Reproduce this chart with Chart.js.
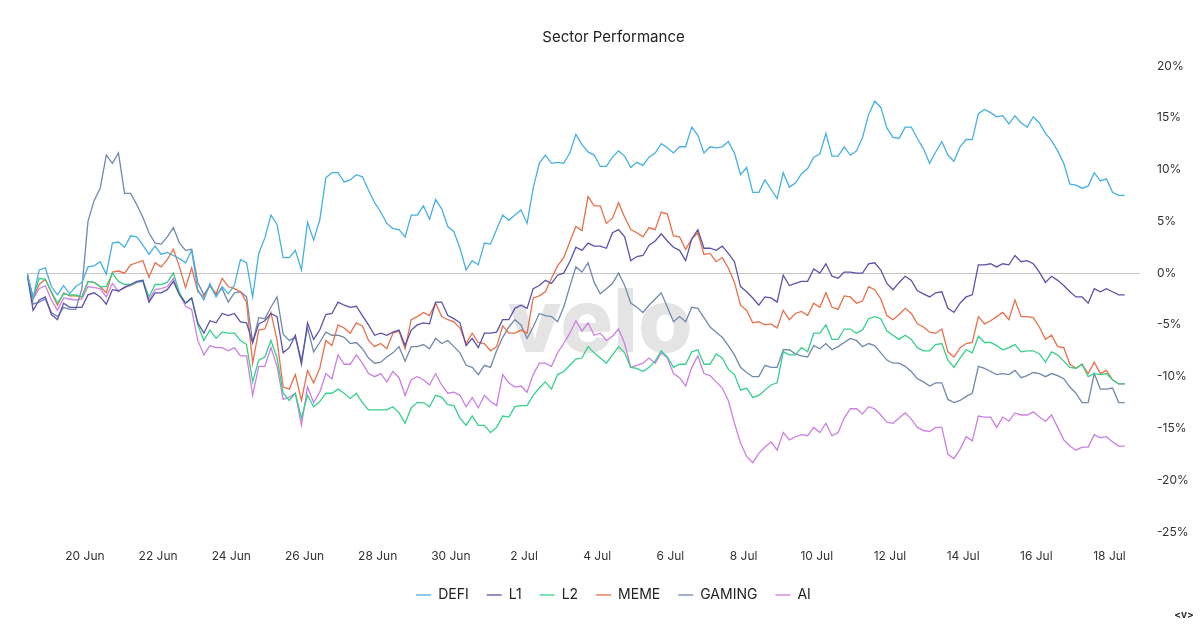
<!DOCTYPE html>
<html>
<head>
<meta charset="utf-8">
<script src="https://cdn.jsdelivr.net/npm/chart.js@4.4.1/dist/chart.umd.min.js"></script>
<style>
  html, body { margin: 0; padding: 0; background: #fff; }
  #wrap { width: 1200px; height: 628px; }
</style>
</head>
<body>
<div id="wrap"><canvas id="chart" width="1200" height="628"></canvas></div>
<script>
// 4-hourly sector returns (%), starting 18 Jun 10:00
const startTime = "2024-06-18T10:00:00Z";
const stepHours = 4;

const xTickDates = ["2024-06-20", "2024-06-22", "2024-06-24", "2024-06-26", "2024-06-28", "2024-06-30",
  "2024-07-02", "2024-07-04", "2024-07-06", "2024-07-08", "2024-07-10", "2024-07-12",
  "2024-07-14", "2024-07-16", "2024-07-18"];
const xTickLabels = ["20 Jun", "22 Jun", "24 Jun", "26 Jun", "28 Jun", "30 Jun",
  "2 Jul", "4 Jul", "6 Jul", "8 Jul", "10 Jul", "12 Jul",
  "14 Jul", "16 Jul", "18 Jul"];

const seriesNames = ["DEFI", "L1", "L2", "MEME", "GAMING", "AI"];
const seriesColors = ["#47b0e2", "#5a53a9", "#36cf8c", "#e8704a", "#7189ac", "#cc7fe4"];

const defi = [
  0, -2.4, 0.3, 0.5, -1.3, -2.1, -1.2, -2.0, -1.3, -0.9,
  0.6, 0.7, 1.1, -0.1, 2.9, 3.0, 2.5, 3.6, 3.5, 2.7,
  1.8, 2.6, 1.8, 2.0, 1.7, 1.4, 1.0, 2.2, -1.6, -2.6,
  -1.0, -2.3, -1.3, -2.0, -1.2, 1.3, 1.0, -2.3, 1.9, 3.4,
  5.6, 4.7, 1.5, 1.5, 2.2, 0.3, 4.9, 3.2, 5.1, 9.2,
  9.7, 9.7, 8.8, 9.0, 9.5, 9.3, 8.0, 6.8, 5.9, 4.8,
  4.3, 4.2, 3.5, 5.6, 5.6, 6.5, 5.2, 7.1, 6.2, 4.5,
  4.0, 2.4, 0.3, 1.2, 0.8, 2.9, 2.8, 4.2, 5.6, 5.1,
  5.6, 6.1, 4.8, 8.2, 10.6, 11.4, 10.6, 10.7, 10.6, 11.6,
  13.4, 12.4, 11.7, 11.4, 10.3, 10.3, 11.2, 11.8, 11.3, 10.2,
  10.7, 10.4, 11.2, 11.6, 12.5, 12.1, 11.6, 12.2, 12.2, 14.1,
  13.3, 11.6, 12.2, 12.1, 12.2, 12.7, 11.6, 9.5, 10.2, 7.8,
  7.8, 9.0, 8.1, 7.2, 9.7, 8.3, 8.7, 9.6, 10.1, 11.2,
  11.5, 13.5, 11.3, 11.3, 12.2, 11.4, 11.8, 13.1, 15.3, 16.6,
  16.0, 14.0, 13.1, 13.0, 14.1, 14.1, 13.0, 12.0, 10.6, 11.7,
  12.7, 11.4, 10.8, 12.2, 12.9, 12.9, 15.4, 15.8, 15.5, 15.1,
  15.2, 14.4, 15.2, 14.5, 14.1, 15.1, 14.5, 13.5, 12.8, 11.8,
  10.6, 8.6, 8.5, 8.2, 8.4, 9.7, 8.9, 9.1, 7.8, 7.5, 7.5
];

const l1 = [
  0, -3.6, -2.6, -2.3, -4.0, -4.5, -2.9, -3.3, -3.3, -3.3,
  -2.1, -1.9, -2.3, -3.0, -1.6, -1.7, -1.4, -1.1, -0.8, -0.7,
  -2.8, -1.9, -1.9, -1.6, -0.8, -2.1, -2.9, -2.4, -4.8, -5.8,
  -4.6, -4.8, -3.9, -4.1, -3.9, -4.7, -4.8, -6.7, -4.9, -4.6,
  -3.9, -4.2, -7.7, -7.2, -6.0, -8.8, -4.8, -6.4, -5.5, -4.0,
  -3.9, -2.8, -3.1, -3.3, -3.2, -4.1, -5.0, -6.0, -5.8, -6.0,
  -5.7, -5.5, -7.0, -5.5, -5.0, -4.8, -4.9, -2.8, -2.8, -4.1,
  -4.4, -4.8, -7.0, -6.3, -7.2, -5.8, -5.8, -5.7, -4.5, -4.5,
  -3.4, -3.1, -3.4, -1.5, -1.2, -0.7, -1.0, -0.2, 0.0, 1.1,
  2.5, 2.2, 2.9, 2.6, 2.6, 2.4, 3.9, 4.2, 3.5, 1.2,
  1.6, 1.7, 2.7, 3.1, 3.8, 3.1, 2.5, 2.2, 1.2, 3.3,
  4.2, 2.4, 2.4, 2.2, 2.6, 1.9, 1.1, -1.3, -1.8, -2.4,
  -3.1, -2.3, -2.4, -2.8, -0.2, -1.2, -1.0, -0.8, -0.8, 0.4,
  0.0, 0.9, -0.3, -0.5, 0.1, 0.1, 0.0, 0.0, 0.9, 1.0,
  0.3, -1.0, -1.6, -0.9, -0.3, -0.7, -1.7, -2.0, -2.3, -1.9,
  -1.8, -3.4, -3.8, -2.9, -2.3, -2.1, 0.8, 0.8, 0.9, 0.6,
  0.9, 0.8, 1.7, 1.1, 1.2, 0.9, 0.1, -0.9, -0.3, -0.7,
  -1.2, -1.8, -2.3, -2.3, -2.9, -1.5, -1.8, -1.5, -1.8, -2.1, -2.1
];

const l2 = [
  0, -2.4, -0.5, -0.6, -1.8, -2.9, -2.0, -2.1, -2.1, -2.3,
  -0.8, -0.9, -1.3, -1.3, 0.0, -0.8, -1.1, -1.1, -0.9, -0.7,
  -2.3, -1.1, -1.1, -0.9, 0.0, -1.9, -2.9, -2.4, -5.0, -6.5,
  -5.5, -6.3, -5.7, -5.8, -5.8, -6.5, -6.9, -10.5, -8.4, -8.1,
  -6.5, -8.2, -11.6, -12.3, -11.6, -14.0, -11.8, -12.9, -12.4, -11.6,
  -11.6, -11.2, -11.6, -12.1, -11.6, -12.5, -13.2, -13.2, -13.2, -13.2,
  -12.9, -13.5, -14.5, -13.0, -12.5, -12.5, -12.9, -11.8, -12.0, -12.7,
  -12.8, -14.0, -14.7, -13.8, -14.7, -14.7, -15.4, -14.9, -13.8, -13.9,
  -12.9, -12.8, -12.8, -11.8, -11.1, -10.5, -11.2, -9.8, -9.5, -8.9,
  -8.3, -8.2, -7.1, -7.7, -8.2, -8.7, -7.9, -7.1, -7.7, -9.1,
  -9.2, -9.5, -9.1, -8.5, -7.5, -8.1, -9.1, -8.8, -8.8, -7.6,
  -7.4, -8.8, -8.8, -7.8, -8.2, -9.3, -9.8, -11.3, -11.1, -12.0,
  -11.8, -11.3, -10.8, -10.6, -7.6, -7.9, -7.9, -7.2, -7.6, -5.8,
  -5.8, -5.0, -6.4, -6.4, -5.4, -5.4, -5.8, -5.5, -4.4, -4.2,
  -4.4, -5.6, -6.0, -6.4, -6.0, -6.4, -7.2, -7.5, -7.5, -6.9,
  -6.8, -8.4, -9.1, -8.2, -7.4, -7.7, -6.1, -6.7, -6.7, -7.0,
  -7.4, -7.2, -6.9, -7.6, -7.5, -7.5, -7.8, -8.6, -7.6, -7.9,
  -8.5, -9.1, -9.2, -8.8, -10.0, -9.7, -9.8, -9.7, -10.3, -10.7, -10.7
];

const meme = [
  0, -2.4, -1.1, -0.6, -1.9, -3.1, -1.9, -2.2, -2.2, -2.3,
  -0.8, -0.9, -1.3, -1.9, 0.1, 0.2, 0.0, 0.8, 1.0, 1.2,
  -0.4, 1.0, 0.6, 1.3, 2.3, 0.6, -1.4, 0.5, -1.8, -2.3,
  -1.2, -2.0, -0.5, -1.3, -1.5, -1.8, -2.8, -8.7, -5.5, -5.4,
  -3.8, -6.5, -11.0, -11.2, -9.8, -12.3, -9.4, -10.6, -9.2, -6.5,
  -7.0, -5.0, -5.3, -5.8, -4.8, -5.1, -6.5, -7.1, -6.8, -7.3,
  -5.8, -5.6, -7.3, -4.5, -4.2, -3.8, -4.1, -2.9, -4.2, -4.5,
  -4.7, -5.3, -6.8, -5.8, -6.7, -6.8, -7.5, -7.1, -5.1, -5.8,
  -5.8, -5.5, -5.8, -2.4, -2.2, -1.8, -0.5, 0.7, 1.5, 3.0,
  4.5, 4.1, 7.4, 6.5, 6.5, 4.8, 5.3, 6.8, 5.4, 4.2,
  3.9, 3.5, 4.4, 4.2, 5.9, 5.7, 3.6, 3.5, 2.3, 3.3,
  3.9, 1.8, 1.9, 1.1, 1.5, 0.5, -0.9, -3.1, -3.6, -4.8,
  -4.7, -5.0, -4.9, -5.3, -3.6, -4.5, -3.9, -3.7, -4.1, -2.9,
  -3.3, -1.9, -3.3, -3.5, -2.2, -2.3, -2.9, -2.7, -1.3, -1.6,
  -2.5, -4.1, -4.5, -4.0, -3.4, -3.9, -4.9, -5.2, -5.7, -5.8,
  -5.4, -7.6, -8.1, -7.2, -6.8, -6.7, -4.2, -4.9, -4.6, -4.2,
  -3.8, -4.5, -2.6, -4.2, -4.2, -4.3, -5.2, -6.4, -6.0, -7.1,
  -7.2, -8.8, -9.2, -8.8, -9.7, -8.6, -9.7, -9.4, -10.3, -10.7, -10.7
];

const gaming = [
  0, -3.0, -2.8, -2.5, -3.8, -4.2, -3.3, -3.5, -3.5, -1.5,
  5.0, 7.0, 8.2, 11.4, 10.6, 11.6, 7.7, 7.7, 6.6, 5.4,
  3.9, 2.9, 2.8, 3.5, 4.4, 2.9, 2.2, 2.3, -0.9, -2.1,
  -1.2, -2.1, -1.5, -2.8, -1.9, -1.8, -2.3, -6.7, -4.3, -4.4,
  -3.3, -2.3, -5.9, -6.5, -6.2, -8.4, -5.3, -7.6, -6.7, -5.7,
  -6.0, -6.0, -6.2, -6.8, -6.7, -7.3, -8.2, -8.7, -8.6, -8.1,
  -7.7, -7.1, -8.5, -7.1, -7.1, -6.9, -7.3, -6.3, -6.8, -6.5,
  -7.1, -7.7, -8.9, -9.1, -9.8, -8.9, -9.1, -7.5, -6.2, -5.2,
  -4.5, -5.0, -6.3, -5.2, -3.9, -4.1, -4.2, -4.7, -3.3, -1.3,
  0.6, 0.1, 1.0, -0.9, -2.0, -1.5, -1.0, 0.0, -1.2, -2.9,
  -3.3, -3.8, -3.1, -2.5, -1.9, -3.3, -4.7, -4.2, -4.7, -3.3,
  -3.4, -4.3, -5.2, -5.7, -6.2, -7.0, -7.9, -9.1, -9.6, -10.0,
  -10.0, -8.9, -9.1, -9.1, -7.4, -7.4, -7.8, -8.0, -8.1, -7.0,
  -7.3, -6.8, -7.4, -7.1, -6.7, -6.3, -6.5, -7.1, -6.8, -7.0,
  -7.7, -8.4, -8.7, -8.7, -9.0, -9.5, -10.2, -10.5, -10.9, -10.6,
  -10.6, -12.2, -12.5, -12.3, -11.9, -11.6, -9.0, -9.2, -9.5, -9.8,
  -9.7, -9.8, -9.4, -10.1, -9.9, -9.6, -9.7, -10.0, -9.7, -9.9,
  -10.2, -11.0, -11.6, -12.5, -12.5, -9.7, -11.2, -11.2, -11.1, -12.5, -12.5
];

const ai = [
  0, -2.5, -1.5, -1.2, -2.6, -3.6, -2.4, -2.5, -2.6, -2.5,
  -1.3, -1.4, -1.5, -2.3, -1.0, -1.8, -1.3, -1.2, -0.9, -0.8,
  -2.6, -1.6, -1.5, -1.3, -0.5, -2.0, -3.2, -3.5, -6.5, -7.9,
  -7.0, -7.2, -7.2, -7.5, -7.2, -8.0, -8.0, -11.8, -9.0, -9.0,
  -7.2, -9.0, -12.2, -12.0, -11.6, -14.7, -11.0, -12.5, -11.5, -9.7,
  -10.2, -7.9, -8.8, -8.8, -7.9, -8.7, -9.7, -10.0, -9.7, -10.5,
  -9.5, -10.1, -11.8, -10.3, -10.0, -10.3, -10.8, -9.7, -10.8, -11.6,
  -11.5, -11.8, -12.9, -12.0, -13.0, -11.8, -12.4, -12.8, -9.8, -10.6,
  -11.0, -10.9, -11.5, -9.8, -8.7, -8.7, -9.0, -7.7, -6.8, -5.8,
  -4.6, -5.6, -4.8, -6.0, -5.8, -6.5, -6.1, -5.4, -6.8, -9.1,
  -8.9, -8.7, -8.2, -8.7, -7.7, -8.2, -9.7, -10.1, -10.9, -9.1,
  -8.0, -9.7, -9.9, -10.5, -11.1, -12.3, -14.5, -16.4, -17.7, -18.3,
  -17.4, -16.8, -16.3, -17.1, -15.4, -16.1, -15.8, -15.6, -15.7, -14.9,
  -15.4, -14.5, -15.7, -15.4, -14.0, -13.1, -13.1, -13.6, -12.9, -13.1,
  -13.7, -14.4, -14.5, -14.0, -13.5, -14.1, -14.9, -15.2, -15.3, -14.9,
  -14.9, -17.5, -17.9, -17.0, -15.8, -16.2, -13.8, -13.9, -13.9, -14.9,
  -13.9, -14.3, -13.5, -13.7, -13.7, -13.4, -13.9, -14.3, -13.7, -14.9,
  -16.1, -16.7, -17.1, -16.8, -16.8, -15.6, -15.9, -15.8, -16.3, -16.7, -16.7
];

const HOUR = 3600 * 1000;
const t0 = Date.parse(startTime);
const tickValues = xTickDates.map(d => Date.parse(d + "T00:00:00Z"));

function toPoints(values) {
  return values.map((v, i) => ({ x: t0 + i * stepHours * HOUR, y: v }));
}

const FONT = "Inter, 'Noto Sans', sans-serif";

// faint "velo" watermark behind the lines, plus the small mark bottom right
const decorations = {
  id: "decorations",
  beforeDatasetsDraw(chart) {
    const ctx = chart.ctx;
    ctx.save();
    ctx.font = "800 88px " + FONT;
    ctx.fillStyle = "#e4e4e4";
    ctx.textAlign = "center";
    ctx.textBaseline = "alphabetic";
    ctx.fillText("velo", 600, 352);
    ctx.restore();
  },
  afterDraw(chart) {
    const ctx = chart.ctx;
    ctx.save();
    ctx.font = "bold 10px " + FONT;
    ctx.fillStyle = "#333";
    ctx.textAlign = "center";
    ctx.textBaseline = "middle";
    ctx.fillText("<v>", 1184, 615);
    ctx.restore();
  }
};

const allSeries = [defi, l1, l2, meme, gaming, ai];

const ctx = document.getElementById("chart").getContext("2d");
new Chart(ctx, {
  type: "line",
  data: {
    datasets: allSeries.map((values, k) => ({
      label: seriesNames[k],
      data: toPoints(values),
      borderColor: seriesColors[k],
      backgroundColor: seriesColors[k],
      borderWidth: 1.3,
      pointRadius: 0,
      tension: 0,
      fill: false
    }))
  },
  options: {
    responsive: false,
    animation: false,
    devicePixelRatio: 1,
    layout: {
      padding: { left: 27, right: 0, top: 0, bottom: 16 }
    },
    plugins: {
      title: {
        display: true,
        text: "Sector Performance",
        color: "#222",
        font: { family: FONT, size: 15, weight: "normal" },
        padding: { top: 28, bottom: 20 }
      },
      legend: {
        position: "bottom",
        labels: {
          usePointStyle: true,
          pointStyle: "line",
          pointStyleWidth: 15,
          padding: 18,
          color: "#222",
          font: { family: FONT, size: 14 }
        }
      },
      tooltip: { enabled: false }
    },
    scales: {
      x: {
        type: "linear",
        min: t0,
        max: t0 + 730 * HOUR,
        grid: { display: false, drawTicks: false },
        border: { display: false },
        afterBuildTicks(scale) {
          scale.ticks = tickValues.map(v => ({ value: v }));
        },
        afterFit(scale) {
          scale.height = 38;
        },
        ticks: {
          autoSkip: false,
          maxRotation: 0,
          padding: 17,
          color: "#333",
          font: { family: FONT, size: 12 },
          callback(value) {
            const k = tickValues.indexOf(value);
            return k >= 0 ? xTickLabels[k] : "";
          }
        }
      },
      y: {
        position: "right",
        min: -25,
        max: 20,
        border: { display: false },
        grid: {
          drawTicks: false,
          lineWidth: 1,
          color(c) {
            return c.tick && c.tick.value === 0 ? "#c6c6c6" : "rgba(0,0,0,0)";
          }
        },
        afterFit(scale) {
          scale.width = 60;
        },
        ticks: {
          stepSize: 5,
          padding: 17,
          color: "#333",
          font: { family: FONT, size: 12 },
          callback: v => v + "%"
        }
      }
    }
  },
  plugins: [decorations]
});
</script>
</body>
</html>
